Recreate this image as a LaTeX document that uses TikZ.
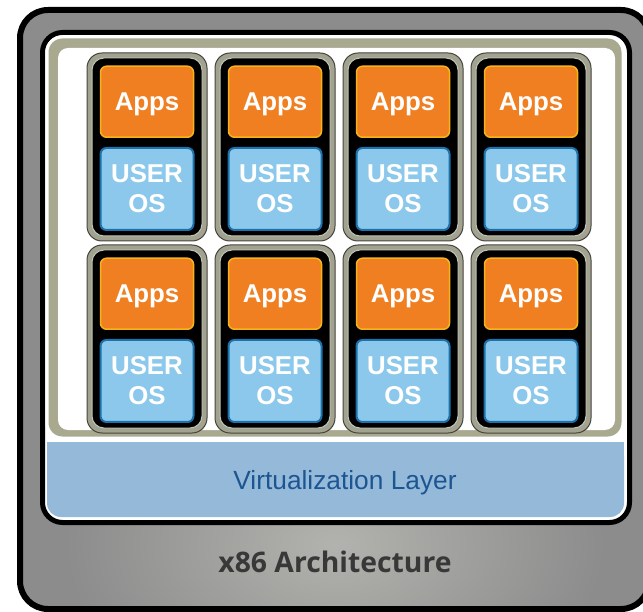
\documentclass[tikz,border=0pt]{standalone}
\usepackage{fontspec}
\setmainfont{Liberation Sans}
\newfontfamily\archfont{Open Sans}
\usetikzlibrary{positioning}

\definecolor{archgray}{HTML}{8C8C8C}
\definecolor{archlight}{HTML}{B2B2AE}
\definecolor{archtext}{HTML}{383838}
\definecolor{khaki}{HTML}{A9A990}
\definecolor{tilegray}{HTML}{A2A290}
\definecolor{tilelight}{HTML}{C4C4B4}
\definecolor{tileedge}{HTML}{45453E}
\definecolor{appsorange}{HTML}{F07F22}
\definecolor{appsedge}{HTML}{F6B31C}
\definecolor{osblue}{HTML}{8CC8EB}
\definecolor{osedge}{HTML}{1C72AC}
\definecolor{vblue}{HTML}{95BAD9}
\definecolor{vtext}{HTML}{1D5592}

\tikzset{
    tile/.style={draw=tileedge, fill=tilegray, line width=1pt, rounded corners=15pt,
        minimum width=120pt, minimum height=188pt, inner sep=0pt},
    tilecore/.style={fill=black, draw=tilelight, line width=1pt, rounded corners=12pt,
        minimum width=110pt, minimum height=178pt, inner sep=0pt},
    appsbox/.style={draw=appsedge, fill=appsorange, line width=1.5pt, rounded corners=6pt,
        minimum width=93pt, minimum height=71pt, inner sep=0pt, text=white,
        text depth=0pt, font=\fontsize{25.8}{30}\selectfont\bfseries},
    osbox/.style={draw=osedge, fill=osblue, line width=2pt, rounded corners=6pt,
        minimum width=93pt, minimum height=82pt, inner sep=0pt, text=white, align=center,
        font=\fontsize{25.8}{30}\selectfont\bfseries},
}

\begin{document}
\begin{tikzpicture}[x=1pt, y=-1pt]
    \useasboundingbox (0,0) rectangle (643,612);

    % hardware
    \path[fill=archgray, rounded corners=28pt] (20,10) rectangle (649,609);
    \begin{scope}
        \clip[rounded corners=28pt] (20,10) rectangle (649,609);
        \shade[inner color=archlight, outer color=archgray] (335,545) ellipse (270pt and 170pt);
    \end{scope}
    \draw[line width=6pt, rounded corners=28pt] (20,10) rectangle (649,609);
    \node(arch) [text depth=0pt] at (335,562) {\archfont\bfseries\fontsize{28.3}{32}\selectfont\color{archtext}x86 Architecture};

    % virtualization layer
    \draw[line width=5pt, rounded corners=20pt, fill=white] (42.5,32.5) rectangle (629.5,522.5);
    \node(vlayer) [fill=vblue, rounded corners=14pt, minimum width=577pt, minimum height=75pt,
        inner sep=0pt] at (335.5,479.5) {};
    \fill[vblue] (vlayer.north west) rectangle ([yshift=-20pt]vlayer.north east);
    \node(vtitle) [text=vtext, text depth=0pt, font=\fontsize{26.3}{30}\selectfont]
        at (345,479.5) {Virtualization Layer};
    \draw[white, line width=3pt, fill=khaki, rounded corners=15pt] (47,37) rectangle (623,438);
    \fill[white, rounded corners=10pt] (58,48) rectangle (615,430);

    % virtual machines
    \foreach \row in {0,1} {
        \foreach \col in {0,...,3} {
            \node(t\row\col) [tile] at (147+128*\col, 147+192*\row) {};
            \node(c\row\col) [tilecore] at (t\row\col) {};
            \node(apps\row\col) [appsbox, below=13pt of t\row\col.north] {Apps};
            \node(os\row\col) [osbox, below=9pt of apps\row\col] {USER\\OS};
        }
    }
\end{tikzpicture}
\end{document}
